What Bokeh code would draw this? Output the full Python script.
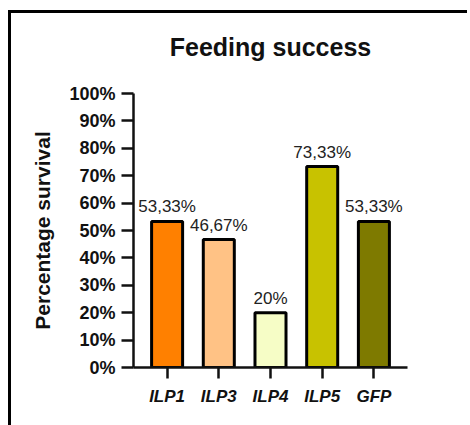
from bokeh.plotting import figure
from bokeh.models import ColumnDataSource, FactorRange, Range1d, SingleIntervalTicker, PrintfTickFormatter, LabelSet, Title
from bokeh.core.properties import value
from bokeh.embed import file_html
from bokeh.resources import INLINE

categories = ["ILP1", "ILP3", "ILP4", "ILP5", "GFP"]
survival = [53.33, 46.67, 20.0, 73.33, 53.33]
value_labels = ["53,33%", "46,67%", "20%", "73,33%", "53,33%"]
bar_colors = ["#FF8000", "#FFC285", "#F6FDC6", "#C8C200", "#7E7A00"]
chart_title = "Feeding success"

FONT = "Liberation Sans"

source = ColumnDataSource(dict(cat=categories, val=survival, lab=value_labels, col=bar_colors))

p = figure(
    width=459, height=419,
    x_range=FactorRange(*categories, range_padding=0.06, range_padding_units="percent"),
    y_range=Range1d(0, 100),
    output_backend="svg", toolbar_location=None,
    min_border_left=122, min_border_right=63, min_border_top=80, min_border_bottom=65,
)
p.styles = {"border-left": "3px solid black", "border-top": "3px solid black",
            "margin-top": "10px", "margin-left": "8px"}

spacer = Title(text=" ", text_font_size="14px", text_font=FONT)
main_title = Title(text=chart_title, text_font=FONT, text_font_size="25px",
                   text_font_style="bold", align="center", text_color="#111111")
p.add_layout(spacer, "above")
p.add_layout(main_title, "above")

p.vbar(x="cat", top="val", width=0.6, source=source, fill_color="col",
       line_color="black", line_width=3)

labels = LabelSet(x="cat", y="val", text="lab", source=source, text_align="center",
                  text_baseline="bottom", y_offset=5, text_font=value(FONT),
                  text_font_size="17px", text_color="#222222")
p.add_layout(labels)

p.xgrid.visible = False
p.ygrid.visible = False
p.outline_line_color = None
p.background_fill_color = "white"
p.border_fill_color = None

ya = p.yaxis[0]
ya.ticker = SingleIntervalTicker(interval=10)
ya.formatter = PrintfTickFormatter(format="%d%%")
ya.axis_label = "Percentage survival"
ya.axis_label_text_font = FONT
ya.axis_label_text_font_size = "21px"
ya.axis_label_text_font_style = "bold"
ya.axis_label_standoff = 12
ya.major_label_text_font = FONT
ya.major_label_text_font_size = "18px"
ya.major_label_text_font_style = "bold"
ya.major_label_standoff = 6
ya.major_tick_in = 0
ya.major_tick_out = 12
ya.minor_tick_line_color = None
ya.axis_line_width = 2.5
ya.major_tick_line_width = 2.5
ya.axis_line_color = "#111111"
ya.major_tick_line_color = "#111111"
ya.major_label_text_color = "#111111"
ya.axis_label_text_color = "#111111"

xa = p.xaxis[0]
xa.major_label_text_font = FONT
xa.major_label_text_font_size = "17px"
xa.major_label_text_font_style = "bold italic"
xa.major_label_standoff = 8
xa.major_tick_in = 0
xa.major_tick_out = 11
xa.axis_line_width = 2.5
xa.major_tick_line_width = 2.5
xa.axis_line_color = "#111111"
xa.major_tick_line_color = "#111111"
xa.major_label_text_color = "#111111"

open("out.html", "w").write(file_html(p, INLINE))
